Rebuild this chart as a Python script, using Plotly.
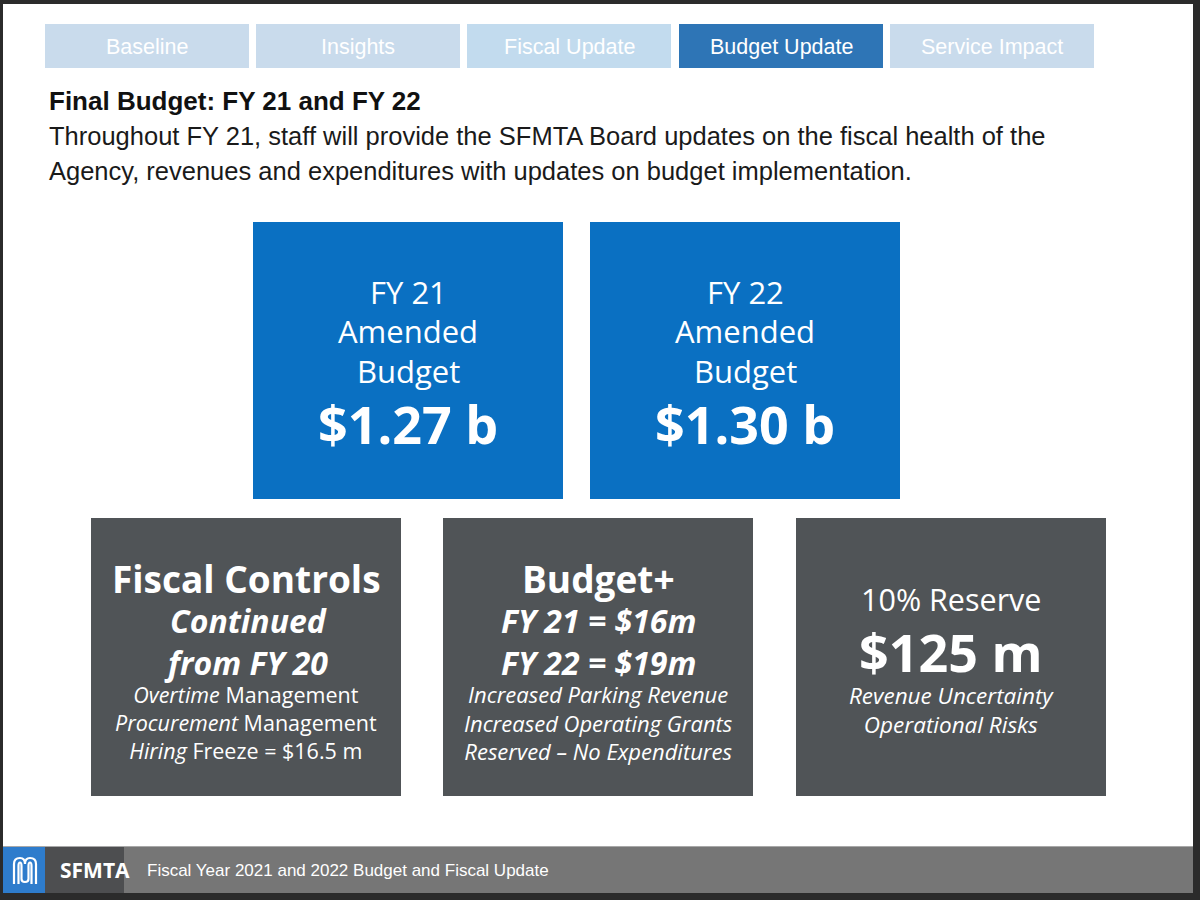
import plotly.graph_objects as go

# ---------------- content ----------------
tab_labels = ["Baseline", "Insights", "Fiscal Update", "Budget Update", "Service Impact"]
active_tab = "Budget Update"

title_text = "Final Budget: FY 21 and FY 22"
intro_lines = [
    "Throughout FY 21, staff will provide the SFMTA Board updates on the fiscal health of the",
    "Agency, revenues and expenditures with updates on budget implementation.",
]

budget_years = ["FY 21", "FY 22"]
budget_amounts = ["$1.27 b", "$1.30 b"]

controls_lines = ["Fiscal Controls", "Continued", "from FY 20"]
controls_items = ["<i>Overtime</i> Management", "<i>Procurement</i> Management", "<i>Hiring</i> Freeze = $16.5 m"]

budget_plus_lines = ["Budget+", "FY 21 = $16m", "FY 22 = $19m"]
budget_plus_items = ["Increased Parking Revenue", "Increased Operating Grants", "Reserved \u2013 No Expenditures"]

reserve_label = "10% Reserve"
reserve_amount = "$125 m"
reserve_items = ["Revenue Uncertainty", "Operational Risks"]

footer_org = "SFMTA"
footer_text = "Fiscal Year 2021 and 2022 Budget and Fiscal Update"

# ---------------- styling ----------------
NARROW = "Liberation Sans, Arial, sans-serif"
SANS = "Open Sans, Noto Sans, sans-serif"
WHITE = "#ffffff"
BLUE = "#0a70c2"
GRAY_BOX = "#505457"

fig = go.Figure()
shapes = []
ann = []

def rect(x0, y0, x1, y1, color, line=None):
    shapes.append(dict(type="rect", xref="x", yref="y", x0=x0, y0=y0, x1=x1, y1=y1,
                       fillcolor=color, line=dict(width=0) if line is None else line, layer="below"))

def text(x, y, s, size, color=WHITE, family=SANS, xanchor="center", yanchor="middle"):
    ann.append(dict(x=x, y=y, xref="x", yref="y", text=s, showarrow=False,
                    font=dict(size=size, color=color, family=family),
                    xanchor=xanchor, yanchor=yanchor, borderpad=0))

# page (white) area inside dark frame
rect(3, 4, 1193, 846, "#ffffff")

# tabs
tab_x0 = [45, 256, 467, 679, 890]
tab_w = 204
for lbl, x0 in zip(tab_labels, tab_x0):
    if lbl == active_tab:
        col = "#2e75b6"
    elif lbl == "Fiscal Update":
        col = "#c2dbee"
    else:
        col = "#c9dbec"
    rect(x0, 24, x0 + tab_w, 68, col)
    text(x0 + tab_w / 2, 47, lbl, 21.5, family=NARROW)

# title and intro
text(48, 101, "<b>" + title_text + "</b>", 26, color="#111111", family=NARROW, xanchor="left")
text(48, 136, intro_lines[0], 25.5, color="#1a1a1a", family=NARROW, xanchor="left")
text(48, 171, intro_lines[1], 25.5, color="#1a1a1a", family=NARROW, xanchor="left")

# blue budget boxes
blue_x0 = [253, 590]
for yr, amt, x0 in zip(budget_years, budget_amounts, blue_x0):
    rect(x0, 222, x0 + 310, 499, BLUE)
    cx = x0 + 155
    text(cx, 292, yr, 31)
    text(cx, 331, "Amended", 31)
    text(cx, 371, "Budget", 31)
    text(cx, 423, "<b>" + amt + "</b>", 52)

# gray boxes
gray_x0 = [91, 443, 796]
for x0 in gray_x0:
    rect(x0, 518, x0 + 310, 796, GRAY_BOX)

def bold_italic_block(cx, lines):
    text(cx, 641, "<br>".join("<b><i>" + s + "</i></b>" for s in lines), 32)

def items_block(cx, y, items, size, italic=True):
    fmt = (lambda s: "<i>" + s + "</i>") if italic else (lambda s: s)
    text(cx, y, "<br>".join(fmt(s) for s in items), size)

cx = gray_x0[0] + 155
text(cx, 578, "<b>" + controls_lines[0] + "</b>", 37)
bold_italic_block(cx, controls_lines[1:])
items_block(cx, 722, controls_items, 21.5, italic=False)

cx = gray_x0[1] + 155
text(cx, 578, "<b>" + budget_plus_lines[0] + "</b>", 37)
bold_italic_block(cx, budget_plus_lines[1:])
items_block(cx, 722, budget_plus_items, 22)

cx = gray_x0[2] + 155
text(cx, 599, reserve_label, 30.5)
text(cx, 651, "<b>" + reserve_amount + "</b>", 52)
items_block(cx, 710, reserve_items, 22.5)

# footer
rect(3, 846, 1193, 893, "#767676")
shapes.append(dict(type="line", xref="x", yref="y", x0=3, x1=1193, y0=846.5, y1=846.5,
                   line=dict(color="#a8a8a8", width=1)))
rect(3, 847, 45, 893, "#2e7ccc")
rect(45, 847, 124, 893, "#4d4e50")
# logo
for p in ["M 14,884 V 864 Q 14,858 20,858 Q 25,858 25,864 Q 25,858 30,858 Q 36,858 36,864 V 884",
          "M 18.5,884 V 866 Q 18.5,862.5 20,862.5 Q 21.5,862.5 21.5,866 V 879 Q 21.5,882 25,882 Q 28.5,882 28.5,879 V 866 Q 28.5,862.5 30,862.5 Q 31.5,862.5 31.5,866 V 884"]:
    shapes.append(dict(type="path", xref="x", yref="y", path=p, line=dict(color=WHITE, width=2.2)))
text(59, 870, "<b>" + footer_org + "</b>", 21, xanchor="left")
text(146, 870, footer_text, 17, family=NARROW, xanchor="left")

fig.update_layout(
    width=1200, height=900,
    margin=dict(l=0, r=0, t=0, b=0),
    paper_bgcolor="#2b2b2b", plot_bgcolor="#2b2b2b",
    xaxis=dict(range=[0, 1200], visible=False, fixedrange=True),
    yaxis=dict(range=[900, 0], visible=False, fixedrange=True),
    shapes=shapes, annotations=ann, showlegend=False,
)
fig.write_html("out.html", config={"displayModeBar": False},
               post_script="document.body.style.margin='0';document.body.style.overflow='hidden';")
